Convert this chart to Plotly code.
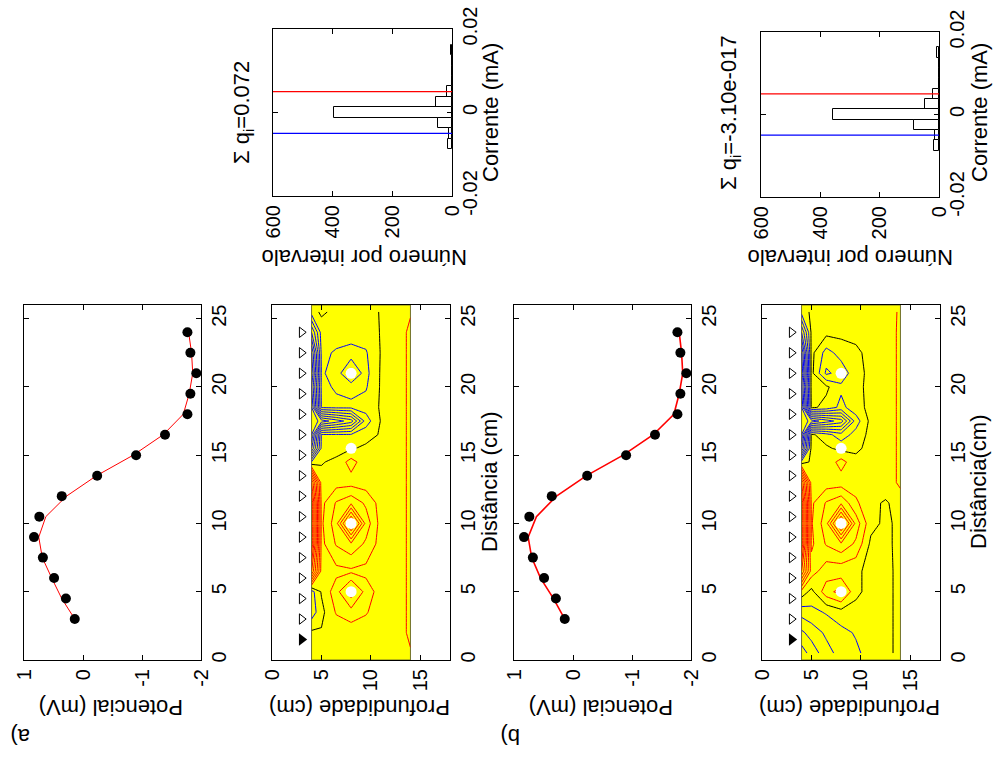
import plotly.graph_objects as go

FONT = "Liberation Sans"
W, H = 994, 762

# ---------------- data ----------------
DIST_MEAS = [3, 4.5, 6, 7.5, 9, 10.5, 12, 13.5, 15, 16.5, 18, 19.5, 21, 22.5, 24]
POT_OBS = [0.14, 0.29, 0.49, 0.68, 0.83, 0.74, 0.36, -0.24, -0.90, -1.39, -1.77, -1.82, -1.92, -1.82, -1.77]
POT_MODEL_A = [0.14, 0.36, 0.53, 0.69, 0.75, 0.63, 0.28, -0.23, -0.85, -1.36, -1.70, -1.80, -1.86, -1.84, -1.79]
POT_MODEL_B = [0.14, 0.33, 0.55, 0.70, 0.76, 0.62, 0.28, -0.23, -0.85, -1.36, -1.71, -1.80, -1.86, -1.84, -1.80]

ELECTRODES = [1.5, 3, 4.5, 6, 7.5, 9, 10.5, 12, 13.5, 15, 16.5, 18, 19.5, 21, 22.5, 24]
ELECTRODE_DEPTH = 3
SOURCE_DIST = [5, 10, 15.5, 21]
SOURCE_DEPTH = 8
MEDIUM_TOP, MEDIUM_BOTTOM = 4, 14
DIST_RANGE = [0, 26]
DEPTH_RANGE = [0, 18]
POT_RANGE = [1, -2]

GRID_DEPTH = [4, 5, 6.5, 8, 9.5, 11, 12.5, 13.5, 14]
GRID_DIST = [0.5, 2, 3.5, 5, 6.5, 8.5, 10, 11.5, 13, 14.5, 15.5, 16.5, 17.5, 18.5, 20, 21, 22.5, 24, 25.5]

# rows = depth, columns = distance
CURRENT_A = [
    [0.3, 0.2, -1.6, -1.4, 6.0, 8.9, 8.9, 8.9, 7.0, -0.9, -6.0, -8.0, -8.9, -8.0, -7.0, -8.0, -7.0, -4.0, -0.5],
    [0.3, 0.1, -0.3, 0.1, 0.6, 0.7, 0.8, 0.7, 0.5, -0.1, -0.8, -0.9, -7.5, -0.9, -0.8, -0.9, -0.8, -0.6, 0.2],
    [0.3, 0.3, 1.1, 1.6, 0.7, 2.1, 2.6, 2.1, 0.6, 0.3, -0.5, -0.9, -6.5, -0.8, -1.1, -1.3, -1.1, -0.6, -0.3],
    [0.3, 0.4, 1.6, 3.6, 0.8, 2.8, 7.8, 2.8, 0.6, 1.4, -0.1, -0.9, -5.5, -0.8, -1.3, -3.6, -1.3, -0.6, -0.3],
    [0.3, 0.4, 1.1, 1.6, 0.7, 1.8, 2.6, 1.8, 0.5, 0.4, 0.2, -0.4, -1.5, -0.6, -1.1, -1.3, -1.1, -0.5, -0.3],
    [0.4, 0.4, 0.4, 0.5, 0.5, 0.6, 0.6, 0.6, 0.5, 0.4, 0.3, 0.1, 0.05, 0.1, 0.1, 0.1, 0.05, 0.05, 0.05],
    [0.6, 0.6, 0.6, 0.6, 0.6, 0.6, 0.6, 0.6, 0.6, 0.6, 0.6, 0.6, 0.6, 0.6, 0.6, 0.6, 0.6, 0.6, 0.6],
    [0.8, 0.95, 0.95, 0.95, 0.95, 0.95, 0.95, 0.95, 0.95, 0.95, 0.95, 0.95, 0.95, 0.95, 0.95, 0.95, 0.95, 0.95, 0.8],
    [0.9, 1.25, 1.25, 1.25, 1.25, 1.25, 1.25, 1.25, 1.25, 1.25, 1.25, 1.25, 1.25, 1.25, 1.25, 1.25, 1.25, 1.25, 0.9],
]
CURRENT_B = [
    [-4.5, -3.2, -1.6, 0.6, 6.0, 8.9, 8.9, 8.9, 7.0, -0.6, -6.0, -8.0, -8.9, -8.0, -7.0, -8.0, -7.0, -4.0, -0.6],
    [-3.6, -2.6, -1.3, -0.3, 1.5, 0.8, 0.9, 0.8, 0.5, 0.2, 0.3, 0.2, -7.5, 0.2, 0.3, 0.3, 0.3, 0.2, 0.2],
    [-2.4, -1.8, -0.9, 1.6, 0.4, 2.1, 2.6, 2.1, 0.5, 0.3, 0.2, -0.6, -6.5, -0.3, 0.2, -2.2, -1.4, 0.3, 0.3],
    [-1.6, -1.3, -0.4, 2.4, 0.3, 2.8, 7.8, 2.8, 0.5, 1.4, -0.3, -1.6, -5.5, -1.3, -0.8, -1.6, -0.6, 0.3, 0.3],
    [-1.2, -0.9, -0.3, 0.2, 0.2, 1.8, 2.6, 1.2, 0.5, 0.3, -0.2, -0.6, -1.5, -0.4, -0.3, -0.4, -0.2, 0.3, 0.3],
    [-0.6, -0.5, -0.4, -0.3, -0.3, -0.2, 0.3, 0.2, 0.4, 0.3, 0.3, 0.3, 0.3, 0.3, 0.3, 0.3, 0.3, 0.3, 0.3],
    [-0.3, -0.3, -0.3, -0.3, -0.3, -0.2, -0.2, -0.1, 0.5, 0.6, 0.6, 0.6, 0.6, 0.6, 0.6, 0.6, 0.6, 0.6, 0.5],
    [0.1, 0.1, 0.1, 0.1, 0.1, 0.1, 0.1, 0.2, 0.95, 0.95, 0.95, 0.95, 0.95, 0.95, 0.95, 0.95, 0.95, 0.95, 0.9],
    [0.3, 0.3, 0.3, 0.3, 0.3, 0.3, 0.3, 0.4, 1.25, 1.25, 1.25, 1.25, 1.25, 1.25, 1.25, 1.25, 1.25, 1.25, 1.25],
]

BIN_CENTERS = [0.015, 0.0125, 0.01, 0.0075, 0.005, 0.0025, 0.0, -0.0025, -0.005, -0.0075]
COUNTS_A = [5, 1, 1, 1, 17, 52, 395, 48, 11, 14]
COUNTS_B = [6, 1, 1, 1, 19, 47, 358, 84, 13, 17]
BIN_WIDTH = 0.0025
LIMITS = [0.005, -0.005]
LIMIT_COLORS = ["#ff0000", "#0000ff"]
SUM_Q = ["0.072", "-3.10e-017"]

POT_TICKS = [1, 0, -1, -2]
DIST_TICKS = [0, 5, 10, 15, 20, 25]
DEPTH_TICKS = [0, 5, 10, 15]
COUNT_TICKS = [0, 200, 400, 600]
CURR_TICKS = [-0.02, 0, 0.02]
CURR_TICKTEXT = ["-0.02", "0", "0.02"]

# ---------------- layout helpers ----------------
def px_x(a, b):
    return [a / W, b / W]

def px_y(top, bottom):
    return [1 - bottom / H, 1 - top / H]

DOM = {
    1: (px_x(24, 201), px_y(305, 660)),    # a) potencial
    2: (px_x(272, 450), px_y(305, 660)),   # a) profundidade
    3: (px_x(273, 452), px_y(29, 196)),    # a) histograma
    4: (px_x(514, 691), px_y(305, 660)),   # b) potencial
    5: (px_x(762, 940), px_y(305, 660)),   # b) profundidade
    6: (px_x(761, 939), px_y(32, 197)),    # b) histograma
}

tickfont = dict(family=FONT, size=20, color="black")

def axis(**kw):
    d = dict(showline=True, linecolor="black", linewidth=1, mirror="ticks",
             ticks="inside", ticklen=5, tickcolor="black", tickwidth=1,
             showgrid=False, zeroline=False, tickfont=tickfont, tickangle=-90)
    d.update(kw)
    return d

fig = go.Figure()

def ax_names(i):
    return ("x" if i == 1 else f"x{i}"), ("y" if i == 1 else f"y{i}")

# potential panels
for i, model, lw in [(1, POT_MODEL_A, 1), (4, POT_MODEL_B, 1.6)]:
    xa, ya = ax_names(i)
    fig.add_trace(go.Scatter(x=model, y=DIST_MEAS, mode="lines",
                             line=dict(color="#ff0000", width=lw),
                             xaxis=xa, yaxis=ya, showlegend=False))
    fig.add_trace(go.Scatter(x=POT_OBS, y=DIST_MEAS, mode="markers",
                             marker=dict(color="black", size=10),
                             xaxis=xa, yaxis=ya, showlegend=False))

# depth panels
for i, Z in [(2, CURRENT_A), (5, CURRENT_B)]:
    xa, ya = ax_names(i)
    for start, end, color in [(1, 8, "#ff0000"), (-8, -1, "#0000ff"), (0, 0.5, "black")]:
        fig.add_trace(go.Contour(
            x=GRID_DEPTH, y=GRID_DIST, z=Z, transpose=True,
            autocontour=False,
            contours=dict(start=start, end=end, size=1, coloring="none"),
            line=dict(color=color, width=1, smoothing=0),
            showscale=False, hoverinfo="skip",
            xaxis=xa, yaxis=ya, showlegend=False))
    fig.add_trace(go.Scatter(x=[SOURCE_DEPTH] * len(SOURCE_DIST), y=SOURCE_DIST,
                             mode="markers", marker=dict(color="white", size=11),
                             xaxis=xa, yaxis=ya, showlegend=False))
    fig.add_trace(go.Scatter(x=[ELECTRODE_DEPTH] * (len(ELECTRODES) - 1), y=ELECTRODES[1:],
                             mode="markers",
                             marker=dict(symbol="triangle-right-open", color="black", size=9,
                                         line=dict(width=1)),
                             xaxis=xa, yaxis=ya, showlegend=False))
    fig.add_trace(go.Scatter(x=[ELECTRODE_DEPTH], y=ELECTRODES[:1], mode="markers",
                             marker=dict(symbol="triangle-right", color="black", size=11),
                             xaxis=xa, yaxis=ya, showlegend=False))
    fig.add_shape(type="rect", xref=xa, yref=ya, x0=MEDIUM_TOP, x1=MEDIUM_BOTTOM,
                  y0=DIST_RANGE[0], y1=DIST_RANGE[1], fillcolor="#ffff00",
                  line=dict(color="#70702a", width=1), layer="below")

# histograms
for i, counts in [(3, COUNTS_A), (6, COUNTS_B)]:
    xa, ya = ax_names(i)
    fig.add_trace(go.Bar(x=counts, y=BIN_CENTERS, orientation="h", width=BIN_WIDTH,
                         marker=dict(color="white", line=dict(color="black", width=1)),
                         xaxis=xa, yaxis=ya, showlegend=False))
    for lim, col in zip(LIMITS, LIMIT_COLORS):
        fig.add_shape(type="line", xref=f"{xa} domain", yref=ya, x0=0, x1=1,
                      y0=lim, y1=lim, line=dict(color=col, width=1.3))

layout = dict(width=W, height=H, margin=dict(l=0, r=0, t=0, b=0),
              paper_bgcolor="white", plot_bgcolor="white", template="none",
              showlegend=False, bargap=0)

for i, (dx, dy) in DOM.items():
    xk = "xaxis" if i == 1 else f"xaxis{i}"
    yk = "yaxis" if i == 1 else f"yaxis{i}"
    xa, ya = ax_names(i)
    if i in (1, 4):
        xs = axis(range=POT_RANGE, tickvals=POT_TICKS, ticktext=[str(v) for v in POT_TICKS])
        ys = axis(range=DIST_RANGE, tickvals=DIST_TICKS, side="right")
    elif i in (2, 5):
        xs = axis(range=DEPTH_RANGE, tickvals=DEPTH_TICKS)
        ys = axis(range=DIST_RANGE, tickvals=DIST_TICKS, side="right")
    else:
        xs = axis(range=[600, 0], tickvals=COUNT_TICKS)
        ys = axis(range=[-0.02, 0.02], tickvals=CURR_TICKS, ticktext=CURR_TICKTEXT, side="right")
    xs.update(domain=dx, anchor=ya)
    ys.update(domain=dy, anchor=xa)
    layout[xk] = xs
    layout[yk] = ys

fig.update_layout(**layout)

# ---------------- text ----------------
tf = dict(family=FONT, size=22, color="black")

def note(text, x, y, angle):
    fig.add_annotation(text=text, x=x / W, y=1 - y / H, xref="paper", yref="paper",
                       showarrow=False, textangle=angle, font=tf,
                       xanchor="center", yanchor="middle")

note("Potencial (mV)", 111, 708, 180)
note("Profundidade (cm)", 360, 708, 180)
note("Distância (cm)", 490, 482, -90)
note("Potencial (mV)", 601, 708, 180)
note("Profundidade (cm)", 850, 708, 180)
note("Distância(cm)", 979, 482, -90)
note("Corrente (mA)", 490, 113, -90)
note("Corrente (mA)", 979, 113, -90)
note("Número por intervalo", 365, 257, 180)
note("Número por intervalo", 851, 257, 180)
note("Σ q<sub>i</sub>=" + SUM_Q[0], 243, 113, -90)
note("Σ q<sub>i</sub>=" + SUM_Q[1], 730, 113, -90)
note("a)", 20, 737, 180)
note("b)", 510, 737, 180)

fig.write_html("out.html")
